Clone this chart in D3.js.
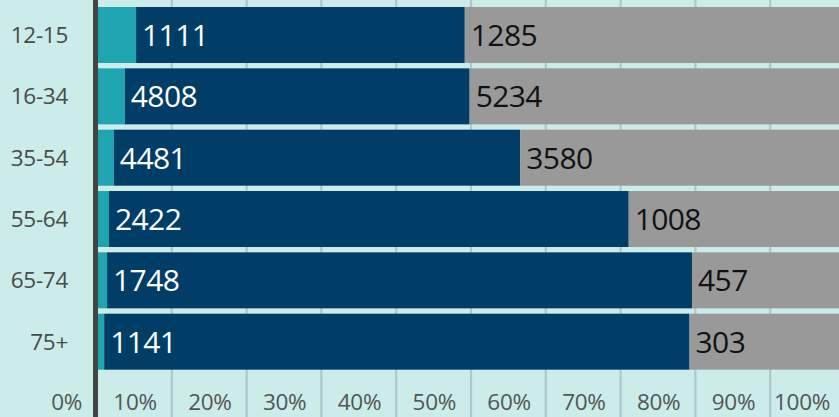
<!DOCTYPE html>
<html>
<head>
<meta charset="utf-8">
<script src="https://cdn.jsdelivr.net/npm/d3@7/dist/d3.min.js"></script>
<style>
  html, body { margin: 0; padding: 0; background: #cbece9; overflow: hidden; }
  svg { display: block; }
</style>
</head>
<body>
<svg id="chart" width="839" height="417"></svg>
<script>
// ---- data ----
const categories = ["12-15", "16-34", "35-54", "55-64", "65-74", "75+"];
const seriesOther = [132, 388, 186, 56, 30, 14];       // teal (unlabelled)
const seriesMain = [1111, 4808, 4481, 2422, 1748, 1141]; // navy
const seriesRest = [1285, 5234, 3580, 1008, 457, 303];   // gray
const tickValues = [0, 10, 20, 30, 40, 50, 60, 70, 80, 90, 100];
const tickLabels = ["0%", "10%", "20%", "30%", "40%", "50%", "60%", "70%", "80%", "90%", "100%"];

const colors = { other: "#1fa5b2", main: "#003e67", rest: "#999999" };

// ---- build stacked percentages ----
const rows = categories.map((c, i) => ({
  cat: c, other: seriesOther[i], main: seriesMain[i], rest: seriesRest[i]
}));
const keys = ["other", "main", "rest"];
const stack = d3.stack().keys(keys).offset(d3.stackOffsetExpand);
const stacked = stack(rows);

const W = 839, H = 417;
const svg = d3.select("#chart");

const x = d3.scaleLinear().domain([0, 100]).range([97, 845]);
const y = d3.scaleBand().domain(categories).range([4.35, 372.35])
  .paddingInner(0.087).paddingOuter(0.0435);

// gridlines
svg.append("g").selectAll("line")
  .data(tickValues.filter(v => v > 0))
  .join("line")
  .attr("x1", d => x(d)).attr("x2", d => x(d))
  .attr("y1", 0).attr("y2", H)
  .attr("stroke", "#aec7c7").attr("stroke-width", 2.2);

// bars
const layer = svg.append("g").selectAll("g")
  .data(stacked).join("g")
  .attr("fill", d => colors[d.key]);
layer.selectAll("rect")
  .data(d => d.map(v => ({ v, key: d.key })))
  .join("rect")
  .attr("x", d => x(d.v[0] * 100))
  .attr("width", d => x(d.v[1] * 100) - x(d.v[0] * 100))
  .attr("y", d => y(d.v.data.cat))
  .attr("height", y.bandwidth());

// value labels
const fontFam = "'Open Sans', 'Noto Sans', sans-serif";
stacked.filter(s => s.key !== "other").forEach(s => {
  svg.append("g").selectAll("text")
    .data(s).join("text")
    .attr("x", d => x(d[0] * 100) + 6)
    .attr("y", d => y(d.data.cat) + y.bandwidth() / 2)
    .attr("dy", "0.37em")
    .attr("font-family", fontFam)
    .attr("font-size", 30)
    .attr("letter-spacing", -0.6)
    .attr("fill", s.key === "main" ? "#ffffff" : "#111111")
    .text(d => d.data[s.key]);
});

// category labels
svg.append("g").selectAll("text")
  .data(categories).join("text")
  .attr("x", 68)
  .attr("y", d => y(d) + y.bandwidth() / 2)
  .attr("dy", "0.36em")
  .attr("text-anchor", "end")
  .attr("font-family", fontFam)
  .attr("font-size", 22.5)
  .attr("letter-spacing", -0.3)
  .attr("fill", "#4a4a4a")
  .text(d => d);

// x tick labels (right-aligned left of each gridline)
svg.append("g").selectAll("text")
  .data(tickValues).join("text")
  .attr("x", (d) => x(d) - 15)
  .attr("y", 410)
  .attr("text-anchor", "end")
  .attr("font-family", fontFam)
  .attr("font-size", 22.5)
  .attr("letter-spacing", -0.3)
  .attr("fill", "#555555")
  .text((d, i) => tickLabels[i]);

// vertical axis line
svg.append("line")
  .attr("x1", x(0) - 1.5).attr("x2", x(0) - 1.5)
  .attr("y1", 0).attr("y2", H)
  .attr("stroke", "#444444").attr("stroke-width", 5);
</script>
</body>
</html>
